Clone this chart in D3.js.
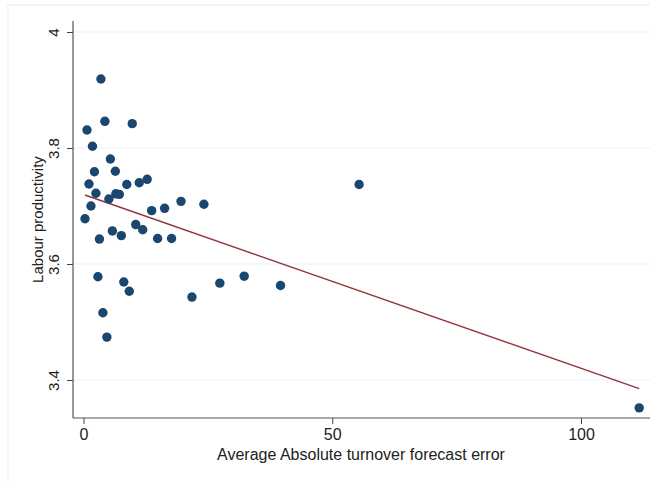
<!DOCTYPE html>
<html>
<head>
<meta charset="utf-8">
<script src="https://cdn.jsdelivr.net/npm/d3@7"></script>
<style>
  html, body { margin: 0; padding: 0; background: #fff; }
  svg { display: block; font-family: "Liberation Sans", Arial, sans-serif; }
</style>
</head>
<body>
<svg id="chart" width="650" height="481"></svg>
<script>
// ---- data ----
const forecastError = [3.5, 4.3, 9.8, 0.7, 1.8, 5.4, 2.2, 6.4, 1.1, 8.7,
  11.2, 12.8, 2.5, 5.1, 6.5, 7.2, 1.5, 13.7, 16.3, 19.6,
  24.2, 0.3, 5.8, 10.5, 11.9, 3.2, 7.6, 14.9, 17.7, 2.9,
  8.1, 9.2, 3.9, 4.7, 21.8, 27.4, 32.3, 39.6, 55.4, 111.7];
const productivity = [3.919, 3.846, 3.842, 3.831, 3.803, 3.781, 3.759, 3.760, 3.738, 3.737,
  3.740, 3.746, 3.722, 3.712, 3.721, 3.720, 3.700, 3.692, 3.696, 3.708,
  3.703, 3.678, 3.657, 3.668, 3.659, 3.643, 3.649, 3.644, 3.644, 3.578,
  3.569, 3.553, 3.516, 3.474, 3.543, 3.567, 3.579, 3.563, 3.737, 3.352];
// fitted line (linear fit as drawn in the picture)
const fitIntercept = [3.7199];
const fitSlope = [-0.002998];
const xTicks = [0, 50, 100];
const yTicks = [3.4, 3.6, 3.8, 4];
const xTitle = "Average Absolute turnover forecast error";
const yTitle = "Labour productivity";

// ---- layout ----
const svg = d3.select("#chart");
const axisLeft = 73, axisBottom = 418, axisTop = 21, axisRight = 650;

const x = d3.scaleLinear().domain([0, 100]).range([83.5, 581]);
const y = d3.scaleLinear().domain([3.4, 4]).range([380, 32]);

// outer frame
svg.append("rect").attr("x", 8).attr("y", 5).attr("width", 660).attr("height", 490)
  .attr("fill", "none").attr("stroke", "#e6eef2").attr("stroke-width", 1.2);

// gridlines
svg.append("g").selectAll("line").data(yTicks).join("line")
  .attr("x1", axisLeft).attr("x2", axisRight)
  .attr("y1", d => y(d)).attr("y2", d => y(d))
  .attr("stroke", "#eaf2f3").attr("stroke-width", 1.2);

// linear fit
const [xmin, xmax] = d3.extent(forecastError);
const fit = v => fitIntercept[0] + fitSlope[0] * v;
svg.append("line")
  .attr("x1", x(xmin)).attr("y1", y(fit(xmin)))
  .attr("x2", x(xmax)).attr("y2", y(fit(xmax)))
  .attr("stroke", "#90353b").attr("stroke-width", 1.4);

// points
svg.append("g").selectAll("circle").data(forecastError).join("circle")
  .attr("cx", d => x(d)).attr("cy", (d, i) => y(productivity[i]))
  .attr("r", 4.7).attr("fill", "#1a476f");

// axes
const yAxis = d3.axisLeft(y).tickValues(yTicks).tickFormat(d => d3.format("")(d)).tickSize(6).tickPadding(0);
const gy = svg.append("g").attr("transform", `translate(${axisLeft},0)`).call(yAxis);
gy.select(".domain").remove();
gy.selectAll(".tick line").attr("stroke", "#444");
gy.selectAll(".tick text").attr("transform", "rotate(-90)")
  .attr("x", 0).attr("y", -14).attr("dy", 0)
  .attr("text-anchor", "middle").attr("font-size", 15).attr("fill", "#222")
  .style("font-family", "'Liberation Sans', Arial, sans-serif");
svg.append("line").attr("x1", axisLeft).attr("x2", axisLeft).attr("y1", axisTop).attr("y2", axisBottom)
  .attr("stroke", "#555").attr("stroke-width", 1.2);

const xAxis = d3.axisBottom(x).tickValues(xTicks).tickSize(6).tickPadding(5);
const gx = svg.append("g").attr("transform", `translate(0,${axisBottom})`).call(xAxis);
gx.select(".domain").remove();
gx.selectAll(".tick line").attr("stroke", "#444");
gx.selectAll(".tick text").attr("font-size", 16).attr("fill", "#222")
  .style("font-family", "'Liberation Sans', Arial, sans-serif");
svg.append("line").attr("x1", axisLeft).attr("x2", axisRight).attr("y1", axisBottom).attr("y2", axisBottom)
  .attr("stroke", "#555").attr("stroke-width", 1.2);

// titles
svg.append("text").attr("x", 361).attr("y", 460).attr("text-anchor", "middle")
  .attr("font-size", 16).attr("fill", "#222").text(xTitle);
svg.append("text").attr("transform", `translate(43,${(axisTop + axisBottom) / 2}) rotate(-90)`)
  .attr("text-anchor", "middle").attr("font-size", 15).attr("fill", "#222").text(yTitle);
</script>
</body>
</html>
